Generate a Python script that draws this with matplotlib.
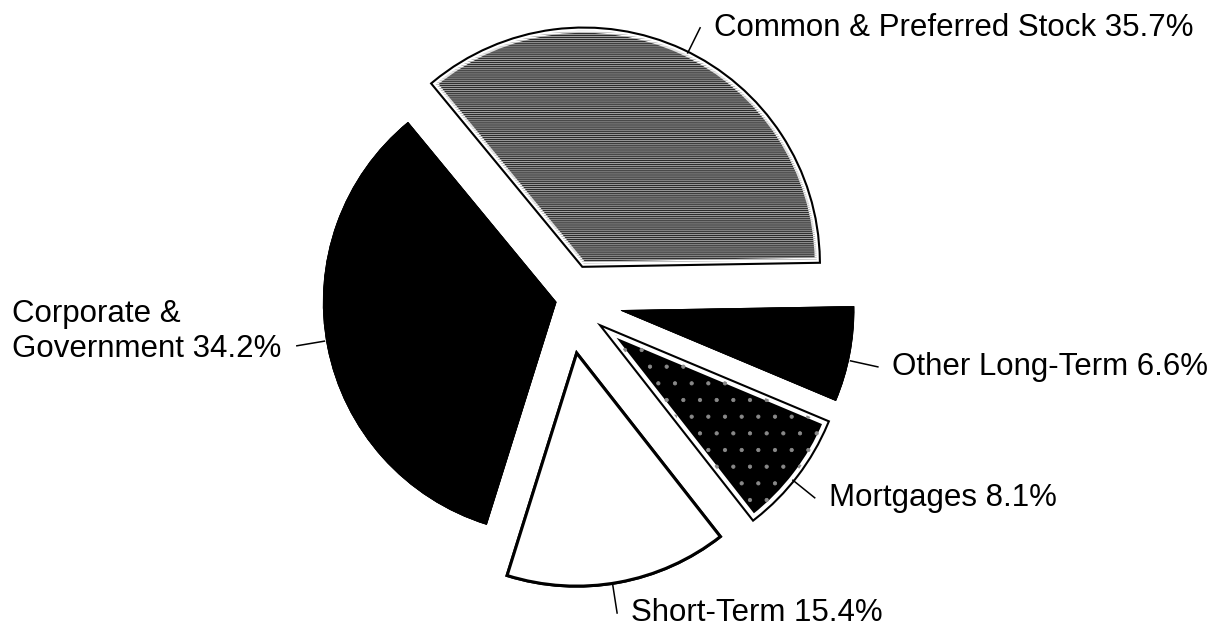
import numpy as np
import matplotlib
matplotlib.use('Agg')
import matplotlib.pyplot as plt

plt.rcParams['font.family'] = ['Liberation Sans', 'DejaVu Sans']
plt.rcParams['hatch.linewidth'] = 0.6

# Data
labels = ['Common & Preferred Stock', 'Other Long-Term', 'Mortgages',
          'Short-Term', 'Corporate &\nGovernment']
values = [35.7, 6.6, 8.1, 15.4, 34.2]

# Styling per slice (explode is in axis units = pixels here)
explode = [40, 55, 54, 54, 11]
faces = ['#2c2c2c', 'black', 'black', 'white', 'black']
edges = ['white', 'black', 'white', 'black', 'black']
edge_w = [3.0, 0.5, 3.0, 2.2, 0.5]
outer_w = [6.0, 0.5, 6.0, 2.2, 0.5]
hatches = ['--------', '', '.', '', '']
hatch_cols = ['#b4b4b4', 'none', '#8a8a8a', 'none', 'none']

fig = plt.figure(figsize=(12.15, 6.28), dpi=100)
ax = fig.add_axes([0, 0, 1, 1])

center = (567, 328)
radius = 233
start = 129.5


def draw_pie():
    w, _ = ax.pie(values, explode=explode, startangle=start, counterclock=False,
                  center=center, radius=radius, frame=True)
    return w


# black outer ring first, then the filled slices, then the textures
for w, lw in zip(draw_pie(), outer_w):
    w.set_facecolor('black')
    w.set_edgecolor('black')
    w.set_linewidth(lw)

wedges = draw_pie()
for w, fc, ec, lw in zip(wedges, faces, edges, edge_w):
    w.set_facecolor(fc)
    w.set_edgecolor(ec)
    w.set_linewidth(lw)
    w.set_joinstyle('miter')

for w, h, hc in zip(draw_pie(), hatches, hatch_cols):
    w.set_facecolor('none')
    w.set_edgecolor(hc)
    w.set_linewidth(0)
    w.set_hatch(h)

ax.set_xlim(0, 1215)
ax.set_ylim(0, 628)
ax.set_aspect('equal')
ax.axis('off')

# leader lines and labels
for w, lab, val in zip(wedges, labels, values):
    mid = np.deg2rad((w.theta1 + w.theta2) / 2 - 1.5)
    cx, cy = w.center
    x0 = cx + (w.r + 2) * np.cos(mid)
    y0 = cy + (w.r + 2) * np.sin(mid)
    x1 = cx + (w.r + 30) * np.cos(mid)
    y1 = cy + (w.r + 30) * np.sin(mid)
    ax.plot([x0, x1], [y0, y1], color='black', lw=1.1)
    text = f'{lab} {val}%'
    if np.cos(mid) >= 0:
        ax.text(x1 + 14, y1, text, ha='left', va='center', fontsize=22.5)
    else:
        ax.text(x1 - 15, y1 + 14, text, ha='right', va='center',
                multialignment='left', fontsize=22.5)

fig.savefig('out.png', dpi=100, facecolor='white')
